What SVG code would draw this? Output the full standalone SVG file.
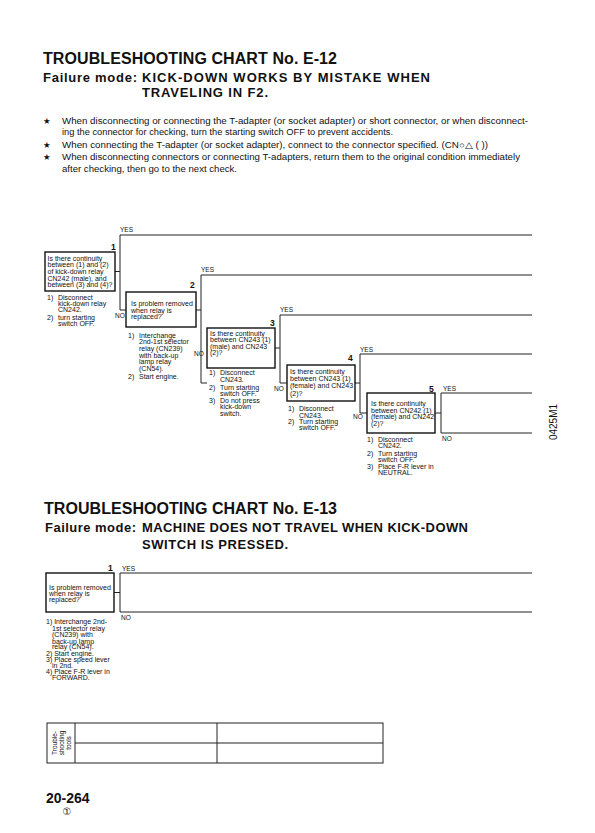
<svg xmlns="http://www.w3.org/2000/svg" width="595" height="833" viewBox="0 0 595 833">
<style>
text{font-family:"Liberation Sans",Arial,Helvetica,sans-serif;fill:#111}
.t{font-size:16px;font-weight:bold}
.f{font-size:13px;font-weight:bold}
.n{font-size:8.5px}
.star{font-family:"DejaVu Sans",sans-serif;font-size:8.5px}
.s{font-size:7px}
.yn{font-size:6.5px}
.num{font-size:8.5px;font-weight:bold}
.box{fill:none;stroke:#111;stroke-width:1.4}
.ln{fill:none;stroke:#222;stroke-width:1}
.tb{fill:none;stroke:#222;stroke-width:1}
</style>
<rect width="595" height="833" fill="#fff"/>

<g id="header-e12">
<text class="t" x="43" y="64" textLength="294" lengthAdjust="spacing">TROUBLESHOOTING  CHART  No.  E-12</text>
<text class="f" x="43" y="82" textLength="94" lengthAdjust="spacing">Failure mode:</text>
<text class="f" x="142" y="82" textLength="288" lengthAdjust="spacing">KICK-DOWN  WORKS  BY  MISTAKE  WHEN</text>
<text class="f" x="142" y="97" textLength="126" lengthAdjust="spacing">TRAVELING  IN  F2.</text>
</g>

<g id="notes">
<text class="star" x="43" y="124">★</text>
<text class="n" x="62" y="123.5" textLength="466" lengthAdjust="spacingAndGlyphs">When disconnecting or connecting the T-adapter (or socket adapter) or short connector, or when disconnect-</text>
<text class="n" x="62" y="135" textLength="331" lengthAdjust="spacingAndGlyphs">ing the connector for checking, turn the starting switch OFF to prevent accidents.</text>
<text class="star" x="43" y="148">★</text>
<text class="n" x="62" y="147.5" textLength="426" lengthAdjust="spacingAndGlyphs">When connecting the T-adapter (or socket adapter), connect to the connector specified. (CN○△ ( ))</text>
<text class="star" x="43" y="160">★</text>
<text class="n" x="62" y="159.5" textLength="458" lengthAdjust="spacingAndGlyphs">When disconnecting connectors or connecting T-adapters, return them to the original condition immediately</text>
<text class="n" x="62" y="171.5" textLength="175" lengthAdjust="spacingAndGlyphs">after checking, then go to the next check.</text>
</g>

<g id="connectors-e12">
<path class="ln" d="M115 271.5H120M120 235H532M120 235V310H126"/>
<path class="ln" d="M196 310H201M201 275H532M201 275V383H207"/>
<path class="ln" d="M275 348H280M280 315H532M280 315V383H287"/>
<path class="ln" d="M355 383H360M360 354H532M360 354V413H367"/>
<path class="ln" d="M435 413H441M441 393H532M441 393V433H532"/>
<text class="yn" x="120" y="232">YES</text>
<text class="yn" x="201" y="272">YES</text>
<text class="yn" x="280" y="312">YES</text>
<text class="yn" x="360" y="351.5">YES</text>
<text class="yn" x="443" y="391">YES</text>
<text class="yn" x="115" y="318">NO</text>
<text class="yn" x="194" y="355.5">NO</text>
<text class="yn" x="274" y="391">NO</text>
<text class="yn" x="353" y="418.5">NO</text>
<text class="yn" x="442" y="441">NO</text>
</g>

<g id="node-e12-1">
<text class="num" x="111" y="250">1</text>
<rect class="box" x="45" y="252" width="70" height="39"/>
<text class="s"><tspan x="47.5" y="260.5">Is there continuity</tspan><tspan x="47.5" y="267.2">between (1) and (2)</tspan><tspan x="47.5" y="273.9">of kick-down relay</tspan><tspan x="47.5" y="280.6">CN242 (male), and</tspan><tspan x="47.5" y="287.3">between (3) and (4)?</tspan></text>
<text class="s"><tspan x="47" y="299.5">1)</tspan><tspan x="58" y="299.5">Disconnect</tspan><tspan x="58" y="305.8">kick-down relay</tspan><tspan x="58" y="312.1">CN242.</tspan><tspan x="47" y="319.5">2)</tspan><tspan x="58" y="319.5">turn starting</tspan><tspan x="58" y="325.8">switch OFF.</tspan></text>
</g>

<g id="node-e12-2">
<text class="num" x="190" y="288">2</text>
<rect class="box" x="126" y="292" width="70" height="35"/>
<text class="s"><tspan x="131" y="305.8">Is problem removed</tspan><tspan x="131" y="312.5">when relay is</tspan><tspan x="131" y="319.2">replaced?</tspan></text>
<text class="s"><tspan x="128" y="337.5">1)</tspan><tspan x="139" y="337.5">Interchange</tspan><tspan x="139" y="344.2">2nd-1st selector</tspan><tspan x="139" y="350.8">relay (CN239)</tspan><tspan x="139" y="357.5">with back-up</tspan><tspan x="139" y="364.2">lamp relay</tspan><tspan x="139" y="370.8">(CN54).</tspan><tspan x="128" y="379.2">2)</tspan><tspan x="139" y="379.2">Start engine.</tspan></text>
</g>

<g id="node-e12-3">
<text class="num" x="270" y="325.5">3</text>
<rect class="box" x="207" y="328" width="68" height="40"/>
<text class="s"><tspan x="210" y="335.8">Is there continuity</tspan><tspan x="210" y="342">between CN243 (1)</tspan><tspan x="210" y="348.5">(male) and CN243</tspan><tspan x="210" y="354.5">(2)?</tspan></text>
<text class="s"><tspan x="209" y="375.2">1)</tspan><tspan x="220" y="375.2">Disconnect</tspan><tspan x="220" y="381.8">CN243.</tspan><tspan x="209" y="389.8">2)</tspan><tspan x="220" y="389.8">Turn starting</tspan><tspan x="220" y="395.8">switch OFF.</tspan><tspan x="209" y="402.5">3)</tspan><tspan x="220" y="402.5">Do not press</tspan><tspan x="220" y="409.2">kick-down</tspan><tspan x="220" y="415.8">switch.</tspan></text>
</g>

<g id="node-e12-4">
<text class="num" x="348" y="361">4</text>
<rect class="box" x="287" y="365" width="68" height="36"/>
<text class="s"><tspan x="290" y="374.2">Is there continuity</tspan><tspan x="290" y="381.3">between CN243 (1)</tspan><tspan x="290" y="388.3">(female) and CN243</tspan><tspan x="290" y="395.5">(2)?</tspan></text>
<text class="s"><tspan x="288" y="410.8">1)</tspan><tspan x="299" y="410.8">Disconnect</tspan><tspan x="299" y="417.5">CN243.</tspan><tspan x="288" y="424.2">2)</tspan><tspan x="299" y="424.2">Turn starting</tspan><tspan x="299" y="430.2">switch OFF.</tspan></text>
</g>

<g id="node-e12-5">
<text class="num" x="429" y="391.5">5</text>
<rect class="box" x="367" y="393" width="68" height="40"/>
<text class="s"><tspan x="371" y="405.8">Is there continuity</tspan><tspan x="371" y="412.5">between CN242 (1)</tspan><tspan x="371" y="419.2">(female) and CN242</tspan><tspan x="371" y="425.8">(2)?</tspan></text>
<text class="s"><tspan x="367" y="441.5">1)</tspan><tspan x="378" y="441.5">Disconnect</tspan><tspan x="378" y="448.2">CN242.</tspan><tspan x="367" y="455.8">2)</tspan><tspan x="378" y="455.8">Turn starting</tspan><tspan x="378" y="461.8">switch OFF.</tspan><tspan x="367" y="468.5">3)</tspan><tspan x="378" y="468.5">Place F-R lever in</tspan><tspan x="378" y="475.2">NEUTRAL.</tspan></text>
</g>

<text x="557" y="422" font-size="10" text-anchor="middle" transform="rotate(-90 557 422)">0425M1</text>

<g id="header-e13">
<text class="t" x="44" y="514" textLength="293" lengthAdjust="spacing">TROUBLESHOOTING  CHART  No.  E-13</text>
<text class="f" x="45" y="532" textLength="91" lengthAdjust="spacing">Failure mode:</text>
<text class="f" x="142" y="532" textLength="326" lengthAdjust="spacing">MACHINE  DOES  NOT  TRAVEL  WHEN  KICK-DOWN</text>
<text class="f" x="142" y="549" textLength="146" lengthAdjust="spacing">SWITCH  IS  PRESSED.</text>
</g>

<g id="connectors-e13">
<path class="ln" d="M114 592.5H120M120 573H532M120 573V612H532"/>
<text class="yn" x="122" y="571">YES</text>
<text class="yn" x="121" y="620">NO</text>
</g>

<g id="node-e13-1">
<text class="num" x="108" y="571">1</text>
<rect class="box" x="46" y="573" width="68" height="39"/>
<text class="s"><tspan x="49" y="589.8">Is problem removed</tspan><tspan x="49" y="595.8">when relay is</tspan><tspan x="49" y="601.8">replaced?</tspan></text>
<text class="s"><tspan x="46" y="624.2">1) Interchange 2nd-</tspan><tspan x="52" y="630.8">1st selector relay</tspan><tspan x="52" y="636.8">(CN239) with</tspan><tspan x="52" y="643.5">back-up lamp</tspan><tspan x="52" y="649.2">relay (CN54).</tspan><tspan x="46" y="655.8">2) Start engine.</tspan><tspan x="46" y="661.5">3) Place speed lever</tspan><tspan x="52" y="667.5">in 2nd.</tspan><tspan x="46" y="674.2">4) Place F-R lever in</tspan><tspan x="52" y="680.2">FORWARD.</tspan></text>
</g>

<g id="tools-table">
<rect class="tb" x="47" y="723" width="336" height="40"/>
<path class="tb" d="M75 723V763M217 723V763M75 743H383"/>
<text font-size="6.5" text-anchor="middle" transform="translate(56.5 743) rotate(-90)">Trouble-</text>
<text font-size="6.5" text-anchor="middle" transform="translate(64 743) rotate(-90)">shooting</text>
<text font-size="6.5" text-anchor="middle" transform="translate(71 743) rotate(-90)">tools</text>
</g>

<g id="page-number">
<text x="46" y="803" font-size="14" font-weight="bold">20-264</text>
<text x="67" y="815" font-size="10" text-anchor="middle" style="font-family:'DejaVu Sans','Noto Sans CJK JP',sans-serif">①</text>
</g>
</svg>
